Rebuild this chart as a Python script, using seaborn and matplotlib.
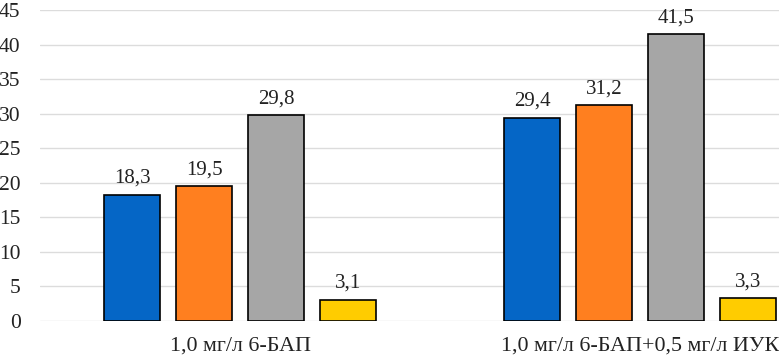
import pandas as pd
import numpy as np
import matplotlib
matplotlib.use("Agg")
import matplotlib.pyplot as plt
import seaborn as sb

# data
groups = ["1,0 мг/л 6-БАП", "1,0 мг/л 6-БАП+0,5 мг/л ИУК"]
series = ["Ряд 1", "Ряд 2", "Ряд 3", "Ряд 4"]
values = {
    "Ряд 1": [18.3, 29.4],
    "Ряд 2": [19.5, 31.2],
    "Ряд 3": [29.8, 41.5],
    "Ряд 4": [3.1, 3.3],
}
colors = ["#0566C6", "#FF7F1F", "#A6A6A6", "#FFCC00"]
yticks = [0, 5, 10, 15, 20, 25, 30, 35, 40, 45]

rows = []
for s in series:
    for g, v in zip(groups, values[s]):
        rows.append({"group": g, "series": s, "value": v})
data = pd.DataFrame(rows)

sb.set_style("white")
plt.rcParams["font.family"] = ["Liberation Serif", "DejaVu Serif"]

fig = plt.figure(figsize=(7.79, 3.59), dpi=100)
# plot area runs off the right edge, as in the cropped original
ax = fig.add_axes([40 / 779, 38 / 359, 800 / 779, 311 / 359])

sb.barplot(data=data, x="group", y="value", hue="series", order=groups,
           hue_order=series, palette=colors, saturation=1, width=0.72, gap=0.21,
           edgecolor="black", linewidth=1.2, legend=False, ax=ax, zorder=3)

for cont in ax.containers:
    labels = [f"{b.get_height():.1f}".replace(".", ",") for b in cont]
    ax.bar_label(cont, labels=labels, padding=5, fontsize=15, color="#222222")

ax.set_xlim(-0.5, 1.5)
ax.set_ylim(0, 45)
ax.set_yticks(yticks)
ax.set_yticklabels([str(t) for t in yticks])
ax.yaxis.grid(True, color="#DCDCDC", linewidth=1.0, zorder=0)
ax.set_axisbelow(True)
for sp in ax.spines.values():
    sp.set_visible(False)
ax.tick_params(axis="both", length=0, colors="#222222")
ax.tick_params(axis="y", pad=14, labelsize=15.5)
ax.tick_params(axis="x", pad=11.5, labelsize=15.8)
ax.set_xlabel("")
ax.set_ylabel("")

fig.savefig("out.png", dpi=100)
